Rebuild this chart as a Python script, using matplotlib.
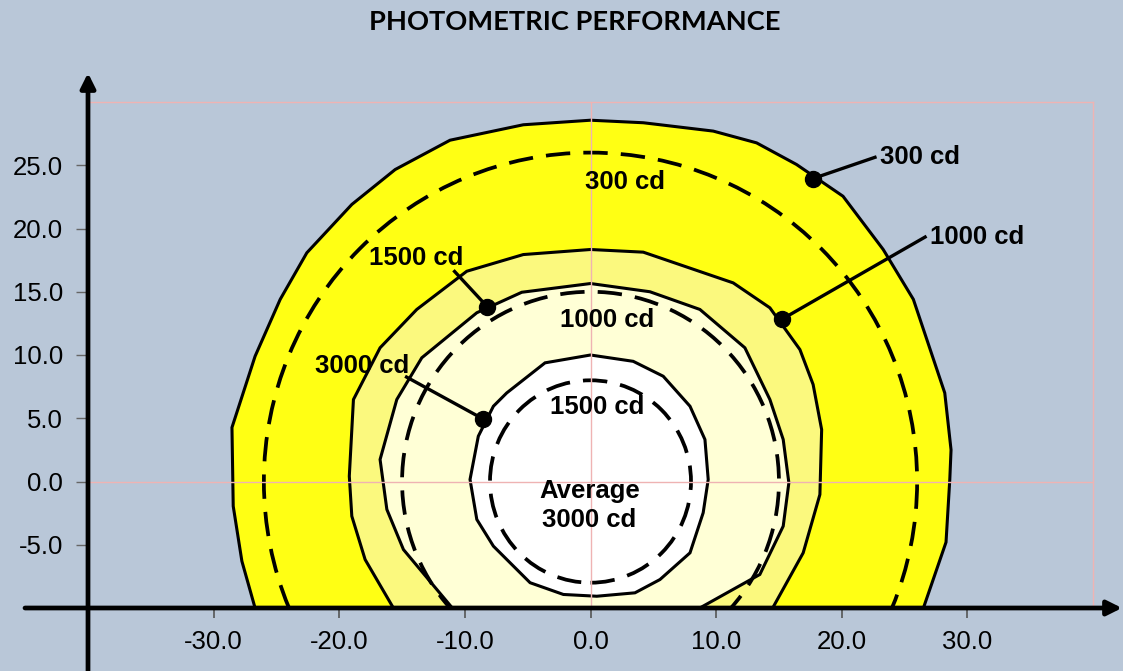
"""Photometric performance: iso-candela contours with average rings."""

import matplotlib.pyplot as plt
from matplotlib.patches import Circle

# iso-candela contour polygons (degrees)
c300_x = [-26.7, -27.75, -28.44, -28.54, -26.7, -24.7, -22.58, -19.0, -15.55, -11.18,
          -5.35, 0.0, 4.2, 9.77, 13.22, 16.4, 20.1, 23.3, 25.7, 28.2, 28.7, 28.6, 28.3, 26.5]
c300_y = [-10.0, -6.3, -1.95, 4.27, 9.9, 14.4, 18.08, 21.9, 24.66, 26.98,
          28.2, 28.56, 28.36, 27.7, 26.77, 25.06, 22.55, 18.34, 14.4, 7.0, 2.5, 0.16, -4.8, -10.0]

c1000_x = [-15.69, -17.94, -19.0, -19.2, -18.87, -16.75, -13.83, -9.85, -5.35, 0.0,
           4.2, 11.36, 14.28, 16.67, 17.72, 18.4, 18.26, 16.93, 14.5]
c1000_y = [-10.0, -6.17, -2.74, 0.42, 6.48, 10.57, 13.6, 16.62, 17.94, 18.34,
           18.13, 15.7, 13.73, 10.43, 7.67, 4.1, -1.03, -5.64, -10.0]

c1500_x = [-11.0, -14.89, -16.21, -16.75, -15.42, -13.43, -9.05, -5.47, 0.0,
           4.73, 8.71, 12.29, 14.28, 15.34, 15.79, 15.34, 13.48, 8.7]
c1500_y = [-10.0, -5.38, -2.21, 1.74, 6.48, 9.78, 13.34, 14.96, 15.65,
           15.0, 13.6, 10.57, 6.48, 3.32, -0.1, -3.53, -7.35, -10.0]

c3000_x = [0.0, 3.4, 5.79, 7.92, 9.11, 9.37, 8.97, 7.92, 5.53, 3.54, 0.5,
           -2.16, -4.81, -7.73, -9.05, -9.59, -8.93, -7.73, -6.67, -3.62]
c3000_y = [10.0, 9.5, 8.32, 5.95, 3.32, 0.16, -2.47, -5.64, -7.75, -8.8, -9.07,
           -8.93, -8.0, -5.11, -3.0, 0.16, 3.58, 5.95, 7.0, 9.38]

# average rings (dashed)
ring_radii = [26, 15, 8]

# labels inside the rings
inner_labels = ["300 cd", "1000 cd", "1500 cd", "Average\n3000 cd"]
inner_x = [2.74, 1.35, 0.52, -0.1]
inner_y = [23.7, 12.73, 5.89, -1.9]

# callout labels for the contours
call_labels = ["300 cd", "1000 cd", "1500 cd", "3000 cd"]
dot_x = [17.71, 15.21, -8.21, -8.58]
dot_y = [23.95, 12.81, 13.81, 4.96]
end_x = [22.77, 26.75, -10.91, -14.76]
end_y = [25.67, 19.39, 16.70, 8.32]
text_x = [23.06, 27.0, -13.88, -18.14]
text_y = [25.68, 19.33, 17.68, 9.12]
text_ha = ["left", "left", "center", "center"]

x_ticks = [-30, -20, -10, 0, 10, 20, 30]
y_ticks = [-5, 0, 5, 10, 15, 20, 25]

BG = "#B9C7D8"
PINK = "#EFB3B3"

plt.rcParams["font.family"] = ["Liberation Sans", "DejaVu Sans"]
plt.rcParams["axes.unicode_minus"] = False

fig = plt.figure(figsize=(11.23, 6.71), dpi=100, facecolor=BG)
ax = fig.add_axes([88 / 1123, 63 / 671, 1005 / 1123, 506 / 671], facecolor=BG)

fills = [
    (c300_x, c300_y, "#FFFF14"),
    (c1000_x, c1000_y, "#FBF97E"),
    (c1500_x, c1500_y, "#FFFFD6"),
    (c3000_x, c3000_y, "#FFFFFF"),
]
for xs, ys, col in fills:
    ax.fill(xs, ys, facecolor=col, edgecolor="black", lw=2.2, zorder=2)

for r in ring_radii:
    ax.add_patch(Circle((0, 0), r, fill=False, ec="black", lw=2.7,
                        ls=(0, (6.5, 3.5)), zorder=3))

ax.axhline(0, color=PINK, lw=1, zorder=4)
ax.axvline(0, color=PINK, lw=1, zorder=4)

for lab, x, y in zip(inner_labels, inner_x, inner_y):
    ax.text(x, y, lab, ha="center", va="center", fontsize=18.5,
            fontweight="bold", linespacing=1.25, zorder=6)

for i, lab in enumerate(call_labels):
    ax.plot([dot_x[i], end_x[i]], [dot_y[i], end_y[i]], color="black", lw=2.4,
            zorder=5, solid_capstyle="butt")
    ax.plot(dot_x[i], dot_y[i], "o", color="black", ms=11.5, zorder=5)
    ax.text(text_x[i], text_y[i], lab, ha=text_ha[i], va="center", fontsize=18.5,
            fontweight="bold", zorder=6)

ax.set_xlim(-40, 40)
ax.set_ylim(-10, 30)
ax.set_xticks(x_ticks)
ax.set_yticks(y_ticks)
ax.set_xticklabels([f"{v:.1f}" for v in x_ticks])
ax.set_yticklabels([f"{v:.1f}" for v in y_ticks])
ax.tick_params(axis="y", direction="out", length=9, width=1, color="#666666",
               labelsize=18.5, pad=9)
ax.tick_params(axis="x", direction="out", length=7.5, width=1.2, color="#555555",
               labelsize=18.5, pad=8)

ax.spines["left"].set_visible(False)
ax.spines["bottom"].set_visible(False)
for s in ("top", "right"):
    ax.spines[s].set_color(PINK)
    ax.spines[s].set_linewidth(1)

# axis arrows drawn in figure pixels, they run past the plot area
arrow = dict(arrowstyle="-|>", color="black", lw=3.4, mutation_scale=22,
             shrinkA=0, shrinkB=0)
ax.annotate("", xy=(88, 671 - 73), xytext=(88, -5), xycoords="figure pixels",
            textcoords="figure pixels", arrowprops=arrow, zorder=7)
ax.annotate("", xy=(1122, 63), xytext=(25, 63), xycoords="figure pixels",
            textcoords="figure pixels", arrowprops=arrow, zorder=7)

fig.text(575 / 1123, 1 - 22 / 671, "PHOTOMETRIC PERFORMANCE", ha="center",
         va="center", fontsize=19.6, fontweight="bold", family=["Lato", "DejaVu Sans"])

fig.savefig("out.png", dpi=100, facecolor=BG)
